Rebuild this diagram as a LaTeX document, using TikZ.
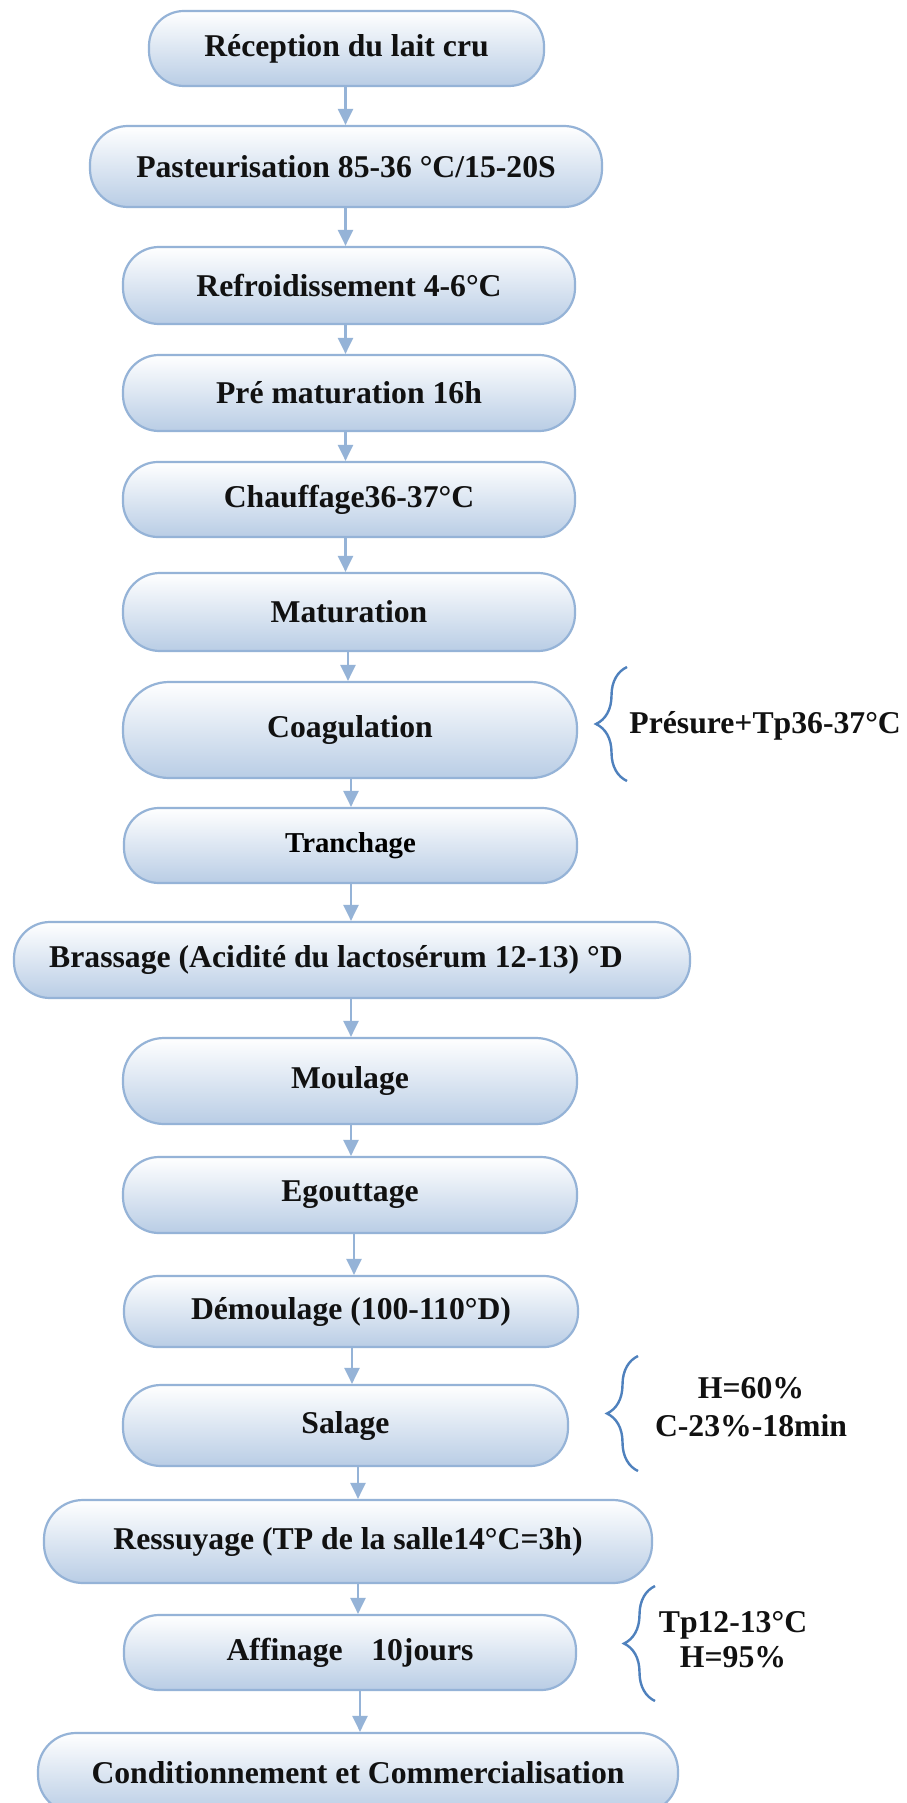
\documentclass[tikz,border=0pt]{standalone}
\usepackage{fontspec}
\setmainfont{Liberation Serif}
\usetikzlibrary{arrows.meta,decorations.pathreplacing}
\definecolor{boxline}{HTML}{95B3D7}
\definecolor{boxfill}{HTML}{B9CDE5}
\definecolor{arrowc}{HTML}{95B3D7}
\definecolor{bracec}{HTML}{4F81BD}
\definecolor{txt}{HTML}{111111}
\newcommand\fs{\fontsize{15.85}{20}\selectfont\bfseries\color{txt}}
\tikzset{
  stepbox/.style={draw=boxline, line width=1.1pt, top color=white, bottom color=boxfill,
    font=\fs, inner sep=0pt, align=center},
  arr/.style={draw=arrowc, line width=1.1pt, -{Triangle[length=8pt,width=7.5pt]}},
  bracedeco/.style={draw=bracec, line width=1.2pt, decorate,
    decoration={brace, amplitude=15.5pt}},
  note/.style={font=\fs, inner sep=0pt, align=center},
}
\begin{document}
\begin{tikzpicture}[x=0.5pt,y=-0.5pt]
\useasboundingbox (0,0) rectangle (906,1803);
\fill[white] (0,0) rectangle (906,1803);

\node[stepbox, minimum width=197.5pt, minimum height=37.5pt, rounded corners=17.5pt] (rec) at (346.5,48.5) {Réception du lait cru};
\node[stepbox, minimum width=256pt, minimum height=40.5pt, rounded corners=19pt] (pas) at (346,166.5) {Pasteurisation 85-36 °C/15-20S};
\node[stepbox, minimum width=226pt, minimum height=38.5pt, rounded corners=18pt] (ref) at (349,285.5) {Refroidissement 4-6°C};
\node[stepbox, minimum width=226pt, minimum height=38pt, rounded corners=18pt] (pre) at (349,393) {Pré maturation 16h};
\node[stepbox, minimum width=226pt, minimum height=37.5pt, rounded corners=17.5pt] (cha) at (349,499.5) {Chauffage36-37°C};
\node[stepbox, minimum width=226pt, minimum height=39pt, rounded corners=18.5pt] (mat) at (349,612) {Maturation};
\node[stepbox, minimum width=227pt, minimum height=48pt, rounded corners=23pt] (coa) at (350,730) {Coagulation};
\node[stepbox, minimum width=226.5pt, minimum height=37.5pt, rounded corners=17.5pt, font=\fontsize{14.4}{18}\selectfont\bfseries] (tra) at (350.5,845.5) {Tranchage};
\node[stepbox, minimum width=338pt, minimum height=38pt, rounded corners=18pt] (bra) at (352,960) {Brassage (Acidité du lactosérum 12-13) °D\hspace*{16pt}};
\node[stepbox, minimum width=227pt, minimum height=43pt, rounded corners=20.5pt] (mou) at (350,1081) {Moulage};
\node[stepbox, minimum width=227pt, minimum height=38pt, rounded corners=18pt] (ego) at (350,1195) {Egouttage};
\node[stepbox, minimum width=227pt, minimum height=35.5pt, rounded corners=17pt] (dem) at (351,1311.5) {Démoulage (100-110°D)};
\node[stepbox, minimum width=222.5pt, minimum height=40.5pt, rounded corners=19pt] (sal) at (345.5,1425.5) {Salage};
\node[stepbox, minimum width=304pt, minimum height=41.5pt, rounded corners=19.5pt] (res) at (348,1541.5) {Ressuyage (TP de la salle14°C=3h)};
\node[stepbox, minimum width=226pt, minimum height=37.5pt, rounded corners=17.5pt] (aff) at (350,1652.5) {Affinage\hspace{0.9em}10jours};
\node[stepbox, minimum width=320pt, minimum height=40pt, rounded corners=19pt] (con) at (358,1773) {Conditionnement et Commercialisation};

% arrow columns
\coordinate (c1) at (345.5,0);
\coordinate (c2) at (348,0);
\coordinate (c3) at (351,0);
\coordinate (c4) at (354,0);
\coordinate (c5) at (352,0);
\coordinate (c6) at (358,0);
\coordinate (c7) at (360,0);

\draw[arr] (rec.south -| c1) -- (pas.north -| c1);
\draw[arr] (pas.south -| c1) -- (ref.north -| c1);
\draw[arr] (ref.south -| c1) -- (pre.north -| c1);
\draw[arr] (pre.south -| c1) -- (cha.north -| c1);
\draw[arr] (cha.south -| c1) -- (mat.north -| c1);
\draw[arr] (mat.south -| c2) -- (coa.north -| c2);
\draw[arr] (coa.south -| c3) -- (tra.north -| c3);
\draw[arr] (tra.south -| c3) -- (bra.north -| c3);
\draw[arr] (bra.south -| c3) -- (mou.north -| c3);
\draw[arr] (mou.south -| c3) -- (ego.north -| c3);
\draw[arr] (ego.south -| c4) -- (dem.north -| c4);
\draw[arr] (dem.south -| c5) -- (sal.north -| c5);
\draw[arr] (sal.south -| c6) -- (res.north -| c6);
\draw[arr] (res.south -| c6) -- (aff.north -| c6);
\draw[arr] (aff.south -| c7) -- (con.north -| c7);

% notes
\node[note, anchor=west] (n1) at (629,726) {Présure+Tp36-37°C};
\node[note, font=\fontsize{15.85}{19}\selectfont\bfseries\color{txt}] (n2) at (751,1407) {H=60\%\\C-23\%-18min};
\node[note, font=\fontsize{15.85}{17.5}\selectfont\bfseries\color{txt}] (n3) at (733,1640) {Tp12-13°C\\H=95\%};

\coordinate (b1a) at (627,781);
\coordinate (b1b) at (627,667);
\coordinate (b2a) at (638,1471);
\coordinate (b2b) at (638,1356);
\coordinate (b3a) at (655,1701);
\coordinate (b3b) at (655,1586);
\draw[bracedeco] (b1a) -- (b1b);
\draw[bracedeco] (b2a) -- (b2b);
\draw[bracedeco] (b3a) -- (b3b);
\end{tikzpicture}
\end{document}
